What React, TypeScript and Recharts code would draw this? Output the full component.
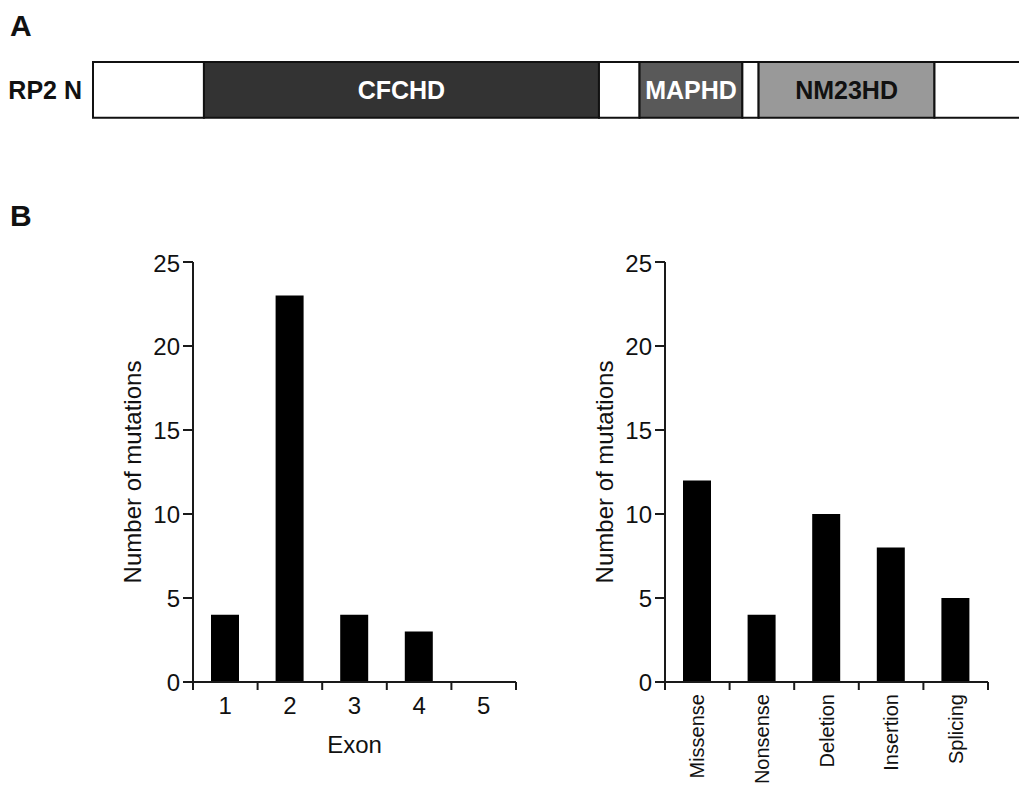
import { BarChart, Bar, XAxis, YAxis, LabelList } from "recharts";

const FONT = '"Liberation Sans", Arial, Helvetica, sans-serif';
const INK = "#1a1a1a";

// panel A: RP2 domain map, lengths in residues (N -> C)
const proteinName = "RP2 N";
const domainNames = ["", "CFCHD", "", "MAPHD", "", "NM23HD", ""];
const domainLengths = [41, 146, 15, 38, 6, 65, 39];

// panel B
const exonLabels = ["1", "2", "3", "4", "5"];
const exonCounts = [4, 23, 4, 3, 0];
const typeLabels = ["Missense", "Nonsense", "Deletion", "Insertion", "Splicing"];
const typeCounts = [12, 4, 10, 8, 5];
const countTicks = [0, 5, 10, 15, 20, 25];

const domainFill = ["#fff", "#333", "#fff", "#595959", "#fff", "#999", "#fff"];
const domainText = ["#fff", "#fff", "#fff", "#fff", "#111", "#111", "#111"];

const proteinRow: Record<string, string | number> = { name: proteinName };
domainLengths.forEach((len, i) => {
  proteinRow[`d${i}`] = len;
});
const proteinTotal = domainLengths.reduce((a, b) => a + b, 0);

const exonData = exonLabels.map((name, i) => ({ name, count: exonCounts[i] }));
const typeData = typeLabels.map((name, i) => ({ name, count: typeCounts[i] }));

// category tick: label at band centre, tick marks on band edges
const makeTick = (count: number, rotated: boolean, margin: number) => (props: any) => {
  const { x, y, payload, index } = props;
  const half = payload?.offset ?? 0;
  const axisY = y - margin;
  return (
    <g>
      <line x1={x - half} x2={x - half} y1={axisY} y2={axisY + 8} stroke={INK} strokeWidth={2} />
      {index === count - 1 ? (
        <line x1={x + half} x2={x + half} y1={axisY} y2={axisY + 8} stroke={INK} strokeWidth={2} />
      ) : null}
      {rotated ? (
        <text
          x={x}
          y={y}
          transform={`rotate(-90, ${x}, ${y})`}
          textAnchor="end"
          dominantBaseline="central"
          fontSize={20}
          fill="#111"
        >
          {payload.value}
        </text>
      ) : (
        <text x={x} y={y} dy="0.71em" textAnchor="middle" fontSize={24} fill="#111">
          {payload.value}
        </text>
      )}
    </g>
  );
};

type ChartProps = {
  data: { name: string; count: number }[];
  left: number;
  xLabel?: string;
  rotated?: boolean;
};

const MutationBars = ({ data, left, xLabel, rotated }: ChartProps) => {
  const margin = rotated ? 12 : 15;
  return (
    <div style={{ position: "absolute", left, top: 250 }}>
      <BarChart
        width={455}
        height={537}
        data={data}
        margin={{ top: 12, right: 10, bottom: 61, left: 0 }}
      >
        <XAxis
          dataKey="name"
          type="category"
          interval={0}
          height={44}
          axisLine={{ stroke: INK, strokeWidth: 2 }}
          tickLine={false}
          tickSize={0}
          tickMargin={margin}
          tick={makeTick(data.length, !!rotated, margin)}
          label={
            xLabel
              ? { value: xLabel, position: "bottom", offset: 10, fontSize: 24, fill: "#111" }
              : undefined
          }
        />
        <YAxis
          type="number"
          domain={[0, 25]}
          ticks={countTicks}
          width={122}
          tickSize={10}
          tickMargin={3}
          tick={{ fontSize: 24, fill: "#111" }}
          axisLine={{ stroke: INK, strokeWidth: 2 }}
          tickLine={{ stroke: INK, strokeWidth: 2 }}
          label={{
            value: "Number of mutations",
            angle: -90,
            position: "center",
            fontSize: 24,
            fill: "#111",
          }}
        />
        <Bar dataKey="count" fill="#000" barSize={28} isAnimationActive={false} />
      </BarChart>
    </div>
  );
};

const panelLetter = (text: string, top: number) => (
  <div
    style={{
      position: "absolute",
      left: 10,
      top,
      fontSize: 30,
      fontWeight: "bold",
      lineHeight: 1,
      color: "#111",
    }}
  >
    {text}
  </div>
);

export default function App() {
  return (
    <div
      style={{
        position: "absolute",
        left: 0,
        top: 0,
        width: 1019,
        height: 787,
        overflow: "hidden",
        background: "#fff",
        fontFamily: FONT,
      }}
    >
      {panelLetter("A", 11)}
      {panelLetter("B", 201)}

      <div style={{ position: "absolute", left: 0, top: 49 }}>
        <BarChart
          width={1040}
          height={82}
          layout="vertical"
          data={[proteinRow]}
          margin={{ top: 10, right: 0, bottom: 10, left: 0 }}
          barCategoryGap={0}
        >
          <XAxis type="number" domain={[0, proteinTotal]} hide />
          <YAxis
            type="category"
            dataKey="name"
            width={93}
            axisLine={false}
            tickLine={false}
            tickSize={0}
            tickMargin={11}
            tick={{ fontSize: 25, fontWeight: "bold", fill: "#111" }}
          />
          {domainLengths.map((_, i) => (
            <Bar
              key={i}
              dataKey={`d${i}`}
              stackId="protein"
              fill={domainFill[i]}
              stroke="#111"
              strokeWidth={2}
              barSize={62}
              isAnimationActive={false}
            >
              {domainNames[i] ? (
                <LabelList
                  dataKey={`d${i}`}
                  position="center"
                  formatter={() => domainNames[i]}
                  fill={domainText[i]}
                  fontSize={25}
                  fontWeight="bold"
                />
              ) : null}
            </Bar>
          ))}
        </BarChart>
      </div>

      <MutationBars data={exonData} left={71} xLabel="Exon" />
      <MutationBars data={typeData} left={543} rotated />
    </div>
  );
}
